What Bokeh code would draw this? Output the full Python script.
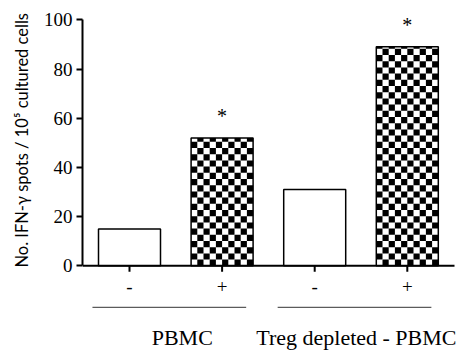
import math
from bokeh.plotting import figure
from bokeh.models import Range1d, FixedTicker, Title
from bokeh.core.properties import value
from bokeh.embed import file_html
from bokeh.resources import INLINE

# ---- data ----
groups = ["PBMC", "Treg depleted - PBMC"]
treatment = ["-", "+", "-", "+"]
bar_group = [0, 0, 1, 1]
spots = [15, 52, 31, 89]
checkered = [False, True, False, True]
significant = [False, True, False, True]
y_ticks = [0, 20, 40, 60, 80, 100]
y_title = "No. IFN-\u03b3 spots / 10\u2075 cultured cells"

# ---- layout constants (window pixels) ----
OFF = 1              # canvas origin in the photographed window
PX_X = 92.6          # px per category unit
PX_Y = 2.46          # px per y unit
W, H = 464, 350
FRAME_LEFT = 83      # window x of y axis
ZERO_Y = 266.3       # window y of value 0
X1 = 130             # window x of first category
LEFT = FRAME_LEFT - OFF
x_start = 1 - (X1 - FRAME_LEFT) / PX_X
x_end = x_start + (W - LEFT) / PX_X
y_end = (ZERO_Y - OFF) / PX_Y
y_start = -(OFF + H - ZERO_Y) / PX_Y
bar_w = 62 / PX_X

p = figure(width=W, height=H, output_backend="svg", toolbar_location=None,
           x_range=Range1d(x_start, x_end), y_range=Range1d(y_start, y_end),
           x_axis_location=None, min_border_left=LEFT, min_border_right=0,
           min_border_top=0, min_border_bottom=0)
p.outline_line_color = None
p.xgrid.visible = False
p.ygrid.visible = False
p.background_fill_color = "white"
p.border_fill_color = "white"

ax = p.yaxis[0]
ax.ticker = FixedTicker(ticks=y_ticks)
ax.bounds = (0, 100)
ax.axis_line_width = 2
ax.axis_line_color = "black"
ax.major_tick_line_width = 2
ax.major_tick_out = 6
ax.major_tick_in = 0
ax.minor_tick_line_color = None
ax.major_label_text_font = "Liberation Serif"
ax.major_label_text_font_size = "19px"
ax.major_label_text_color = "black"
ax.major_label_standoff = 4

# y title, anchored at its bottom end (just below the value-0 level)
p.add_layout(Title(text=y_title, align="left", offset=OFF + H - 268,
                   text_font="Lato", text_font_size="16.5px",
                   text_font_style="normal", text_color="black", standoff=18),
             "left")

xs = [i + 1 for i in range(len(spots))]

# bars
lefts = [x - bar_w / 2 for x in xs]
rights = [x + bar_w / 2 for x in xs]
p.quad(left=lefts, right=rights, bottom=0, top=spots,
       fill_color="white", line_color=None)

# checker pattern
cell_h = 6.2 / PX_Y
nx = 10
cl, cr, cb, ct = [], [], [], []
for x, v, chk in zip(xs, spots, checkered):
    if not chk:
        continue
    cw = bar_w / nx
    ny = math.ceil(v / cell_h)
    for j in range(ny):
        for i in range(nx):
            if (i + j) % 2 == 1:
                cl.append(x - bar_w / 2 + i * cw)
                cr.append(x - bar_w / 2 + (i + 1) * cw)
                cb.append(j * cell_h)
                ct.append(min((j + 1) * cell_h, v))
p.quad(left=cl, right=cr, bottom=cb, top=ct, fill_color="black", line_color=None)

p.quad(left=lefts, right=rights, bottom=0, top=spots,
       fill_color=None, line_color="black", line_width=1.5)

# asterisks
sx = [x for x, s in zip(xs, significant) if s]
sy = [v + 22 / PX_Y for v, s in zip(spots, significant) if s]
p.text(x=sx, y=sy, text=["*"] * len(sx), text_align="center",
       text_baseline="alphabetic", text_font=value("Liberation Serif"),
       text_font_size="20px", text_color="black")

# x axis line and ticks
x_axis_end = 1 + (455 - X1) / PX_X
p.segment(x0=[x_start], y0=[0], x1=[x_axis_end], y1=[0], line_color="black", line_width=2)
p.segment(x0=xs, y0=[0] * 4, x1=xs, y1=[-6 / PX_Y] * 4, line_color="black", line_width=2)
p.text(x=xs, y=[-20.7 / PX_Y] * 4, text=treatment, text_align="center",
       text_baseline="alphabetic", text_font=value("Liberation Serif"),
       text_font_size="19px", text_color="black")

# group underlines and labels
g_x0, g_x1, g_cx = [], [], []
for gi in range(len(groups)):
    members = [x for x, g in zip(xs, bar_group) if g == gi]
    g_x0.append(min(members) - 0.4)
    g_x1.append(max(members) + 0.26)
    g_cx.append((min(members) + max(members)) / 2)
p.segment(x0=g_x0, y0=[-41.5 / PX_Y] * 2, x1=g_x1, y1=[-41.5 / PX_Y] * 2,
          line_color="#333333", line_width=1)
label_off = [0.07, -0.05]
p.text(x=[c + o for c, o in zip(g_cx, label_off)], y=[-71.7 / PX_Y] * 2, text=groups,
       text_align="center", text_baseline="alphabetic",
       text_font=value("Liberation Serif"), text_font_size="22px", text_color="black")

open("out.html", "w").write(file_html(p, INLINE))
